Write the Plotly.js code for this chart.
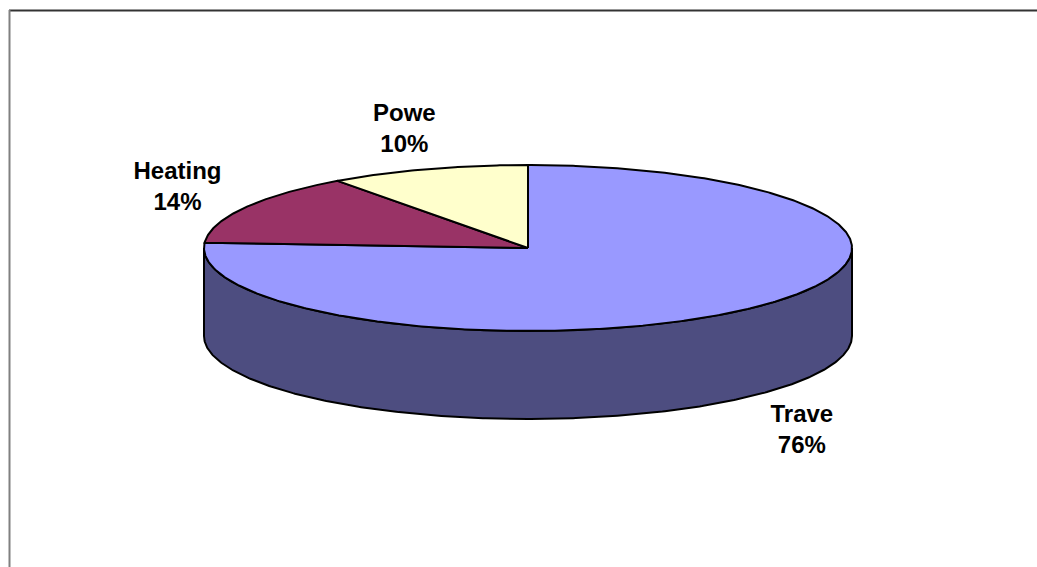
<!DOCTYPE html>
<html><head><meta charset="utf-8">
<script src="https://cdn.plot.ly/plotly-3.0.1.min.js"></script>
<style>html,body{margin:0;padding:0;background:#fff;overflow:hidden;}</style>
</head><body><div id="chart" style="width:1037px;height:567px;"></div>
<script>
// ---- data ----
const categories = ["Travel", "Heating", "Power"];
const shownLabels = ["Trave", "Heating", "Powe"];   // labels as clipped in the original
const values = [76, 14, 10];
const topColors = ["#9999FF", "#993366", "#FFFFCC"];
const sideColors = ["#4D4D80", "#4D1A33", "#808066"];

// ---- geometry of the tilted pie (pixel space of the axes) ----
const cx = 528, cy = 248, rx = 324, ry = 83, depth = 88;
const labRx = 400, labRy = 125;
const total = values.reduce((a, b) => a + b, 0);
function pt(deg, dy) {
  const r = deg * Math.PI / 180;
  return [cx + rx * Math.cos(r), cy - ry * Math.sin(r) + (dy || 0)];
}
function arc(a, b, dy) { // from a to b degrees
  const n = Math.max(2, Math.ceil(Math.abs(b - a) * 2));
  const out = [];
  for (let i = 0; i <= n; i++) out.push(pt(a + (b - a) * i / n, dy));
  return out;
}

const slices = [];
let a0 = 90;
values.forEach((v, i) => {
  const a1 = a0 - 360 * v / total;
  slices.push({ i, a0, a1, mid: (a0 + a1) / 2 });
  a0 = a1;
});

const traces = [];
// side walls (front, visible half only)
slices.forEach(s => {
  for (let k = -2; k <= 1; k++) {
    const lo = Math.max(s.a1, -180 + 360 * k), hi = Math.min(s.a0, 360 * k);
    if (hi - lo > 0.01) {
      const pts = arc(lo, hi, 0).concat(arc(hi, lo, depth));
      pts.push(pts[0]);
      traces.push({
        type: "scatter", mode: "lines", fill: "toself",
        x: pts.map(p => p[0]), y: pts.map(p => p[1]),
        fillcolor: sideColors[s.i], line: { color: "#000", width: 2 },
        hoverinfo: "skip", showlegend: false
      });
    }
  }
});
// top faces
slices.forEach(s => {
  const pts = [[cx, cy]].concat(arc(s.a0, s.a1, 0));
  pts.push([cx, cy]);
  traces.push({
    type: "scatter", mode: "lines", fill: "toself",
    x: pts.map(p => p[0]), y: pts.map(p => p[1]),
    fillcolor: topColors[s.i], line: { color: "#000", width: 2 },
    name: categories[s.i], hoverinfo: "skip", showlegend: false
  });
});
// labels
const lx = [], ly = [], lt = [];
slices.forEach(s => {
  const r = s.mid * Math.PI / 180;
  const sn = Math.sin(r);
  lx.push(cx + labRx * Math.cos(r));
  ly.push(cy - labRy * sn + (sn < 0 ? depth + 3 : 0) + 1);
  lt.push(shownLabels[s.i] + "<br>" + Math.round(100 * values[s.i] / total) + "%");
});
traces.push({
  type: "scatter", mode: "text", x: lx, y: ly, text: lt,
  textposition: "middle center",
  textfont: { family: "Liberation Sans, Arial, sans-serif", size: 24, color: "#000", weight: "bold" },
  hoverinfo: "skip", showlegend: false
});

const layout = {
  width: 1037, height: 567,
  margin: { l: 0, r: 0, t: 0, b: 0 },
  paper_bgcolor: "#fff", plot_bgcolor: "#fff",
  showlegend: false, hovermode: false,
  xaxis: { range: [0, 1037], visible: false, fixedrange: true },
  yaxis: { range: [567, 0], visible: false, fixedrange: true },
  shapes: [
    { type: "line", xref: "x", yref: "y", x0: 9, x1: 1037, y0: 10.5, y1: 10.5, line: { color: "#333", width: 2 } },
    { type: "line", xref: "x", yref: "y", x0: 9.5, x1: 9.5, y0: 10, y1: 567, line: { color: "#808080", width: 2 } }
  ]
};
Plotly.newPlot("chart", traces, layout, { staticPlot: true, displayModeBar: false });
</script></body></html>
